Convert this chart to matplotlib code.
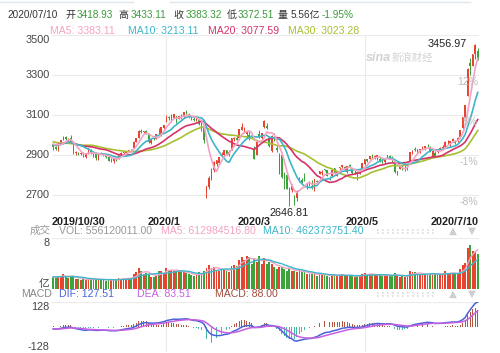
import matplotlib
matplotlib.use("Agg")
import matplotlib.pyplot as plt
import matplotlib.transforms as mtransforms
from matplotlib.lines import Line2D
import numpy as np
import pandas as pd

plt.rcParams["font.family"] = ["Liberation Sans", "Noto Sans CJK SC", "DejaVu Sans"]

# trading calendar (Shanghai), 2019/10/30 - 2020/7/10
holidays = ["2020-01-01", "2020-01-24", "2020-01-27", "2020-01-28", "2020-01-29",
            "2020-01-30", "2020-01-31", "2020-04-06", "2020-05-01", "2020-05-04",
            "2020-05-05", "2020-06-25", "2020-06-26"]
dates = pd.bdate_range("2019-10-30", "2020-07-10")
dates = dates[~dates.isin(pd.to_datetime(holidays))]

# closes before the first shown day, only used to warm up MA / MACD
hist_close = [3021, 3008, 3031, 3030, 2979, 2985, 2999, 3006, 2977, 2985,
              2955, 2929, 2932, 2905, 2914, 2924, 2948, 2973, 3007, 2991,
              2978, 2977, 2938, 2939, 2954, 2941, 2940, 2955, 2980, 2955]
hist_vol = [1.9, 2.1, 1.8, 2.0, 2.2, 1.9, 1.8, 1.7, 1.9, 2.0]

# daily OHLC (index points)
opens = [2949, 2938,
         2925, 2963, 2976, 2990, 2977, 2987, 2951, 2911, 2909, 2905, 2910, 2891, 2910, 2926, 2905, 2906, 2882, 2912, 2907, 2902, 2889,
         2874, 2872, 2880, 2884, 2901, 2912, 2911, 2920, 2922, 2936, 2965, 2987, 3021, 3016, 3018, 3006, 2962, 2982, 2980, 3006, 2999, 3037,
         3066, 3089, 3070, 3085, 3094, 3082, 3100, 3097, 3122, 3105, 3093, 3080, 3080, 3076, 3030, 3037,
         2716, 2740, 2783, 2827, 2853, 2860, 2897, 2898, 2923, 2899, 2924, 2979, 2985, 2984, 3027, 3030, 3006, 2998, 2997, 2924,
         2899, 3007, 2987, 3041, 3045, 2987, 2918, 3001, 2936, 2804, 2900, 2800, 2802, 2736, 2725, 2674, 2686, 2764, 2774, 2791, 2739, 2765,
         2743, 2723, 2770, 2806, 2810, 2828, 2824, 2786, 2795, 2833, 2797, 2836, 2840, 2842, 2817, 2850, 2832, 2815, 2815, 2807, 2831,
         2855, 2878, 2881, 2897, 2891, 2884, 2882, 2885, 2865, 2890, 2896, 2884, 2860, 2817, 2831, 2847, 2834, 2834,
         2863, 2913, 2932, 2929, 2918, 2935, 2936, 2946, 2941, 2891, 2911, 2914, 2932, 2934, 2941, 2963, 2962, 2970, 2971, 2970,
         2991, 3033, 3090, 3197, 3358, 3346, 3406, 3418.93]
highs = [2954, 2945,
         2961, 2977, 2996, 2995, 2985, 3000, 2951, 2921, 2916, 2915, 2913, 2910, 2934, 2929, 2910, 2916, 2907, 2917, 2911, 2907, 2893,
         2883, 2885, 2885, 2900, 2913, 2917, 2920, 2926, 2929, 2969, 2986, 3026, 3031, 3022, 3026, 3009, 2982, 2987, 3007, 3037, 3041, 3051,
         3098, 3094, 3107, 3105, 3095, 3096, 3105, 3116, 3127, 3109, 3095, 3091, 3095, 3082, 3066, 3048,
         2747, 2795, 2833, 2868, 2876, 2891, 2914, 2927, 2927, 2926, 2984, 2990, 3000, 3030, 3058, 3040, 3020, 3020, 3003, 2945,
         2971, 3026, 3012, 3074, 3058, 2990, 2998, 3010, 2944, 2910, 2903, 2815, 2808, 2739, 2756, 2699, 2727, 2790, 2786, 2808, 2758, 2771,
         2773, 2781, 2775, 2821, 2823, 2830, 2825, 2796, 2827, 2834, 2819, 2841, 2852, 2846, 2844, 2853, 2834, 2825, 2822, 2823, 2861,
         2878, 2879, 2897, 2903, 2899, 2898, 2888, 2886, 2880, 2899, 2900, 2893, 2861, 2820, 2846, 2851, 2851, 2855,
         2916, 2923, 2939, 2930, 2932, 2945, 2944, 2953, 2944, 2925, 2921, 2931, 2939, 2948, 2968, 2977, 2970, 2984, 2975, 2988,
         3026, 3091, 3152, 3333, 3387, 3404, 3456.97, 3433.11]
lows = [2926, 2924,
        2920, 2959, 2973, 2975, 2968, 2962, 2906, 2902, 2899, 2898, 2889, 2885, 2906, 2907, 2892, 2875, 2877, 2903, 2893, 2886, 2868,
        2866, 2862, 2870, 2880, 2896, 2904, 2907, 2913, 2914, 2936, 2963, 2986, 3011, 3008, 3004, 2962, 2954, 2975, 2978, 3003, 2997, 3030,
        3066, 3074, 3065, 3084, 3059, 3081, 3080, 3087, 3105, 3086, 3073, 3070, 3069, 3051, 3018, 2960,
        2685, 2730, 2776, 2814, 2843, 2855, 2893, 2891, 2900, 2897, 2924, 2970, 2975, 2981, 3023, 3012, 2986, 2977, 2984, 2878,
        2899, 2987, 2978, 3034, 3030, 2940, 2915, 2968, 2913, 2804, 2785, 2732, 2728, 2646.81, 2715, 2649, 2669, 2764, 2761, 2771, 2731, 2743,
        2732, 2719, 2753, 2803, 2801, 2819, 2793, 2777, 2790, 2808, 2796, 2822, 2834, 2821, 2811, 2834, 2805, 2807, 2774, 2804, 2829,
        2850, 2866, 2880, 2885, 2881, 2877, 2866, 2862, 2855, 2884, 2879, 2864, 2812, 2798, 2830, 2827, 2820, 2827,
        2862, 2905, 2918, 2911, 2911, 2930, 2926, 2939, 2913, 2889, 2890, 2911, 2925, 2928, 2936, 2954, 2938, 2965, 2957, 2967,
        2985, 3030, 3087, 3197, 3300, 3343, 3381, 3372.51]
closes = [2939, 2929,
          2958, 2975, 2991, 2978, 2978, 2964, 2909, 2914, 2905, 2909, 2891, 2909, 2933, 2911, 2903, 2885, 2907, 2907, 2903, 2889, 2872,
          2875, 2884, 2878, 2899, 2912, 2914, 2917, 2924, 2915, 2967, 2985, 3022, 3017, 3017, 3005, 2963, 2982, 2981, 3007, 3005, 3040, 3050,
          3085, 3084, 3083, 3104, 3067, 3095, 3092, 3116, 3107, 3090, 3075, 3075, 3095, 3053, 3061, 2977,
          2746, 2784, 2818, 2867, 2876, 2890, 2901, 2927, 2906, 2917, 2984, 2984, 2975, 3030, 3039, 3031, 3013, 2988, 2992, 2880,
          2970, 2992, 3011, 3071, 3034, 2943, 2996, 2968, 2923, 2887, 2789, 2779, 2728, 2702, 2745, 2660, 2722, 2781, 2764, 2772, 2747, 2750,
          2734, 2780, 2764, 2820, 2815, 2826, 2796, 2783, 2827, 2811, 2819, 2838, 2852, 2827, 2843, 2838, 2808, 2815, 2810, 2822, 2860,
          2878, 2871, 2895, 2894, 2891, 2898, 2870, 2868, 2875, 2898, 2883, 2867, 2813, 2818, 2846, 2837, 2836, 2852,
          2915, 2921, 2923, 2919, 2930, 2937, 2943, 2944, 2921, 2920, 2890, 2931, 2935, 2939, 2967, 2965, 2970, 2980, 2962, 2985,
          3025, 3090, 3152, 3332, 3345, 3403, 3451, 3383.32]
# volume, 亿
volumes = [1.9, 1.8,
           2.0, 2.1, 2.3, 1.9, 1.7, 2.0, 2.1, 1.6, 1.5, 1.4, 1.5, 1.4, 1.6, 1.6, 1.4, 1.6, 1.5, 1.5, 1.4, 1.3, 1.4,
           1.5, 1.4, 1.4, 1.7, 1.6, 1.8, 1.6, 1.7, 1.7, 2.3, 2.6, 3.3, 2.8, 2.3, 2.5, 2.4, 1.9, 1.9, 2.1, 2.9, 2.9, 2.5,
           3.3, 3.0, 3.0, 2.9, 2.8, 2.6, 2.6, 2.7, 2.5, 2.3, 2.2, 2.0, 2.3, 2.6, 2.4, 2.9,
           3.3, 3.7, 3.3, 3.4, 3.0, 2.9, 3.1, 3.0, 2.9, 2.7, 3.6, 3.7, 3.6, 4.6, 5.0, 4.6, 5.2, 5.0, 4.0, 4.8,
           4.2, 5.2, 4.0, 4.9, 3.9, 4.3, 3.9, 3.4, 3.2, 3.5, 3.4, 3.2, 2.9, 3.3, 2.8, 2.8, 2.7, 2.9, 2.6, 2.6, 2.4, 2.3,
           2.4, 2.3, 2.1, 2.5, 2.2, 2.2, 2.1, 1.9, 2.3, 2.2, 2.0, 2.2, 2.3, 2.1, 2.1, 2.1, 2.0, 1.9, 2.0, 2.2, 2.4,
           2.5, 2.2, 2.3, 2.3, 2.2, 2.2, 2.2, 2.0, 2.1, 2.2, 2.1, 2.1, 2.5, 2.0, 1.9, 2.1, 1.9, 2.0,
           2.8, 2.6, 2.7, 2.3, 2.2, 2.3, 2.3, 2.2, 2.3, 2.5, 2.4, 2.4, 2.2, 2.3, 2.8, 2.5, 2.4, 2.5, 2.3, 2.4,
           3.1, 3.7, 4.1, 6.4, 6.9, 6.0, 5.8, 5.56]

# header readings as shown on the chart
change_pct = -1.95
price_ma_vals = [3383.11, 3213.11, 3077.59, 3023.28]
vol_vals = [556120011.00, 612984516.80, 462373751.40]
macd_vals = [127.51, 83.51, 88.00]

date_labels = ["2019/10/30", "2020/1", "2020/3", "2020/5", "2020/7/10"]
label_days = ["2019-10-30", "2020-01-02", "2020-03-02", "2020-05-06", "2020-07-10"]
grid_days = ["2020-01-02", "2020-05-06"]
price_ticks = [2700, 2900, 3100, 3300, 3500]

RED, GREEN = "#e8432e", "#3aa33a"
C_MA5, C_MA10, C_MA20, C_MA30 = "#f3a3c3", "#3db6ca", "#d6336a", "#a8bf32"
GRID = "#ebebeb"

o, h, l, c = map(np.array, (opens, highs, lows, closes))
v = np.array(volumes)
n = len(c)
x = np.arange(n)
up = c >= o
cols = np.where(up, RED, GREEN)

full = pd.Series(hist_close + closes)
nh = len(hist_close)
ma = {k: full.rolling(k, min_periods=1).mean().iloc[nh:].values for k in (5, 10, 20, 30)}
vfull = pd.Series(hist_vol + volumes)
vma5 = vfull.rolling(5, min_periods=1).mean().iloc[len(hist_vol):].values
vma10 = vfull.rolling(10, min_periods=1).mean().iloc[len(hist_vol):].values
dif = (full.ewm(span=12, adjust=False).mean() - full.ewm(span=26, adjust=False).mean())
dea = dif.ewm(span=9, adjust=False).mean()
dif, dea = dif.iloc[nh:].values, dea.iloc[nh:].values
macd = 2 * (dif - dea)

W, H = 500, 353
fig = plt.figure(figsize=(W / 100, H / 100), dpi=100)


def box(l_, t_, r_, b_):
    return [l_ / W, 1 - b_ / H, (r_ - l_) / W, (b_ - t_) / H]


def ftext(px, py, s, color, size=7.2, **kw):
    fig.text(px / W, 1 - py / H, s, color=color, fontsize=size, va="center", **kw)


idx = {d: list(dates).index(pd.Timestamp(d)) for d in label_days + grid_days}

# ---- main price panel
ax = fig.add_axes(box(52, 35, 479, 215))
ax.set_xlim(-0.5, n - 0.5)
ax.set_ylim(2600, 3500)
for t in price_ticks:
    ax.axhline(t, color=GRID, lw=0.8, zorder=0)
for d in grid_days:
    ax.axvline(idx[d], color=GRID, lw=0.8, zorder=0)
ax.vlines(x, l, h, colors=cols, lw=0.7, zorder=2)
ax.bar(x, np.maximum(np.abs(c - o), 1.5), bottom=np.minimum(o, c), width=0.62,
       color=cols, linewidth=0, zorder=2)
for k, col in ((30, C_MA30), (20, C_MA20), (10, C_MA10), (5, C_MA5)):
    ax.plot(x, ma[k], color=col, lw=1.2, zorder=3)
ax.axis("off")

tl = mtransforms.blended_transform_factory(ax.transAxes, ax.transData)
for t in price_ticks:
    ax.text(-0.006, t, str(t), transform=tl, ha="right",
            va="top" if t == 3500 else "center", fontsize=7.8, color="#444")
    if t < 3500:
        pct = int((t / c[0] - 1) * 100)
        ax.text(0.997, t - 8, f"{pct}%", transform=tl, ha="right", va="top",
                fontsize=7.5, color="#bdbdbd")

imax = int(np.argmax(h))
imin = int(np.argmin(l))
ax.annotate(f"{h[imax]:.2f}", (imax, h[imax]), xytext=(-8, 0), textcoords="offset pixels",
            ha="right", va="center", fontsize=7.8, color="#222")
ax.annotate(f"{l[imin]:.2f}", (imin, l[imin]), xytext=(0, -2), textcoords="offset pixels",
            ha="center", va="top", fontsize=7.8, color="#222")

bl = mtransforms.blended_transform_factory(ax.transData, ax.transAxes)
for lab, d in zip(date_labels, label_days):
    ha = "left" if d == label_days[0] else ("right" if d == label_days[-1] else "center")
    xp = -0.5 if ha == "left" else (n - 0.7 if ha == "right" else idx[d] - 1)
    ax.text(xp, -0.04, lab, transform=bl, ha=ha, va="center", fontsize=7.8,
            fontweight="bold", color="#222")

ax.text(0.735, 0.87, "sina", transform=ax.transAxes, fontsize=9, color="#d2d2d2",
        style="italic", fontweight="bold", ha="left", va="center")
ax.text(0.795, 0.87, "新浪财经", transform=ax.transAxes, fontsize=7.5, color="#d2d2d2",
        style="italic", ha="left", va="center")

# ---- volume panel
av = fig.add_axes(box(52, 238, 479, 289))
av.set_xlim(-0.5, n - 0.5)
av.set_ylim(0, 8)
av.axhline(8, color=GRID, lw=0.8, zorder=0)
for d in grid_days:
    av.axvline(idx[d], color=GRID, lw=0.8, zorder=0)
av.bar(x, v, width=0.72, color=cols, linewidth=0, zorder=2)
av.plot(x, vma5, color=C_MA5, lw=1.0, zorder=3)
av.plot(x, vma10, color=C_MA10, lw=1.0, zorder=3)
av.axis("off")
tv = mtransforms.blended_transform_factory(av.transAxes, av.transData)
av.text(-0.006, 8, "8", transform=tv, ha="right", va="top", fontsize=7.8, color="#444")
av.text(-0.006, 0, "亿", transform=tv, ha="right", va="bottom", fontsize=7.8, color="#444")

# ---- MACD panel
am = fig.add_axes(box(52, 302, 479, 352))
am.set_xlim(-0.5, n - 0.5)
am.set_ylim(-128, 128)
am.axhline(128, color=GRID, lw=0.8, zorder=0)
am.axhline(-128, color=GRID, lw=0.8, zorder=0)
for d in grid_days:
    am.axvline(idx[d], color=GRID, lw=0.8, zorder=0)
am.bar(x, macd, width=0.35, color=np.where(macd >= 0, "#b4553f", "#45b8a6"),
       linewidth=0, zorder=2)
am.plot(x, dif, color="#4a62d8", lw=1.1, zorder=3)
am.plot(x, dea, color="#c560e2", lw=1.1, zorder=3)
am.axis("off")
tm = mtransforms.blended_transform_factory(am.transAxes, am.transData)
am.text(-0.006, 128, "128", transform=tm, ha="right", va="top", fontsize=7.8, color="#444")
am.text(-0.006, -128, "-128", transform=tm, ha="right", va="bottom", fontsize=7.8, color="#444")

# ---- header texts
G = "#3a9a3a"
ftext(7, 15, "2020/07/10", "#333")
ftext(65, 15, "开", "#333")
ftext(77, 15, f"{o[-1]:.2f}", G)
ftext(118, 15, "高", "#333")
ftext(131, 15, f"{h[-1]:.2f}", G)
ftext(173, 15, "收", "#333")
ftext(186, 15, f"{c[-1]:.2f}", G)
ftext(227, 15, "低", "#333")
ftext(238, 15, f"{l[-1]:.2f}", G)
ftext(278, 15, "量", "#333")
ftext(291, 15, f"{v[-1]:.2f}亿", "#333")
ftext(322, 15, f"{change_pct:.2f}%", G)

for px_, name, val, col in zip((50, 128, 208, 288), ("MA5", "MA10", "MA20", "MA30"),
                                price_ma_vals, (C_MA5, C_MA10, C_MA20, C_MA30)):
    ftext(px_, 31, f"{name}: {val:.2f}", col, 7.6)

ftext(30, 231, "成交", "#999", 7.6)
ftext(59, 231, f"VOL: {vol_vals[0]:.2f}", "#999", 7.6)
ftext(161, 231, f"MA5: {vol_vals[1]:.2f}", C_MA5, 7.6)
ftext(263, 231, f"MA10: {vol_vals[2]:.2f}", C_MA10, 7.6)

ftext(21, 294, "MACD", "#888", 7.6)
ftext(59, 294, f"DIF: {macd_vals[0]:.2f}", "#4a62d8", 7.6)
ftext(137, 294, f"DEA: {macd_vals[1]:.2f}", "#c560e2", 7.6)
ftext(215, 294, f"MACD: {macd_vals[2]:.2f}", "#a04a3c", 7.6)

for yy in (231, 294):
    for dy in (-1.5, 1.5):
        fig.add_artist(Line2D([377 / W, 437 / W], [1 - (yy + dy) / H] * 2,
                              color="#dddddd", lw=1.2, ls=(0, (1, 2))))
    ftext(449, yy, "▲", "#cfcfcf", 7.5, family="DejaVu Sans")
    ftext(468, yy, "▼", "#cfcfcf", 7.5, family="DejaVu Sans")

fig.add_artist(Line2D([0, 133 / W], [1 - 2 / H] * 2, color="#dde5ee", lw=1.0))
fig.add_artist(Line2D([170 / W, 470 / W], [1 - 2 / H] * 2, color="#dde5ee", lw=1.0))

fig.savefig("out.png", dpi=100, facecolor="white")
